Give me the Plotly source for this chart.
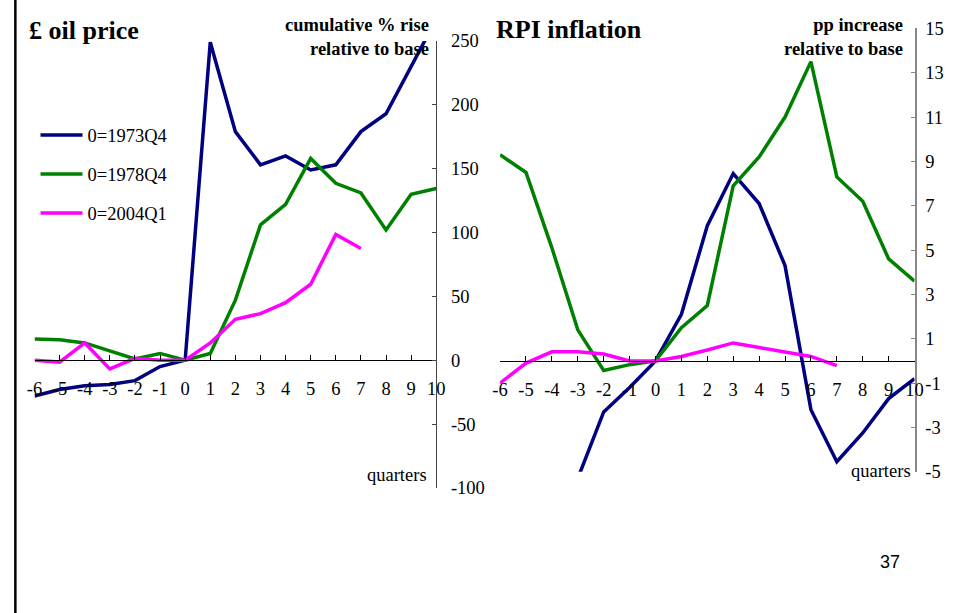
import plotly.graph_objects as go

quarters = list(range(-6, 11))
quarter_labels = ["-6", "-5", "-4", "-3", "-2", "-1", "0", "1", "2", "3", "4", "5", "6", "7", "8", "9", "10"]

# £ oil price, cumulative % rise relative to base
oil_1973 = [-28, -23, -20, -19, -16, -5, 0, 249, 179, 153, 160, 149, 153, 179, 193, 230, 267]
oil_1978 = [16.5, 16, 13.5, 7.3, 1, 5.3, 0, 5.3, 47, 106, 122, 158, 138.5, 131, 102, 130, 134.5]
oil_2004 = [0, -1.5, 13.5, -6.8, 1.5, 0, 0, 13.5, 32, 36.5, 45, 59.5, 98.5, 87.5, None, None, None]

# RPI inflation, pp increase relative to base
rpi_1973 = [None, None, None, -5.3, -2.3, -1.2, 0, 2.1, 6.1, 8.45, 7.1, 4.3, -2.2, -4.55, -3.25, -1.7, -0.8]
rpi_1978 = [9.3, 8.5, 5.1, 1.4, -0.43, -0.17, 0, 1.5, 2.5, 7.9, 9.2, 11.0, 13.5, 8.3, 7.2, 4.6, 3.6]
rpi_2004 = [-1.0, -0.1, 0.41, 0.41, 0.31, 0, 0, 0.2, 0.49, 0.81, 0.6, 0.38, 0.2, -0.21, None, None, None]

oil_ticks = [-100, -50, 0, 50, 100, 150, 200, 250]
oil_tick_labels = ["-100", "-50", "0", "50", "100", "150", "200", "250"]
rpi_ticks = [-5, -3, -1, 1, 3, 5, 7, 9, 11, 13, 15]
rpi_tick_labels = ["-5", "-3", "-1", "1", "3", "5", "7", "9", "11", "13", "15"]

series_names = ["0=1973Q4", "0=1978Q4", "0=2004Q1"]
colors = ["#000080", "#008000", "#FF00FF"]

left_yrange = [-100, 250]
right_yrange = [-5, 15]
W, H = 954, 613


def px(x):
    return x / W


def py(y):
    return 1 - y / H


left_xdom = [px(27), px(436)]
right_xdom = [px(501), px(923)]
left_ydom = [py(494), py(32)]
right_ydom = [py(477.3), py(19)]


def zero_pos(dom, rng):
    return dom[0] + (0 - rng[0]) / (rng[1] - rng[0]) * (dom[1] - dom[0])


serif = "Liberation Serif, Times New Roman, serif"

fig = go.Figure()
for name, col, ys in zip(series_names, colors, [oil_1973, oil_1978, oil_2004]):
    fig.add_trace(go.Scatter(x=quarters, y=ys, mode="lines", name=name,
                             line=dict(color=col, width=3.5), xaxis="x", yaxis="y",
                             legendgroup=name, showlegend=True, connectgaps=False))
for name, col, ys in zip(series_names, colors, [rpi_1973, rpi_1978, rpi_2004]):
    fig.add_trace(go.Scatter(x=quarters, y=ys, mode="lines", name=name,
                             line=dict(color=col, width=3.5), xaxis="x2", yaxis="y2",
                             legendgroup=name, showlegend=False, connectgaps=False))

xcommon = dict(range=[-6, 10], tickmode="array", tickvals=quarters, ticktext=quarter_labels,
               showgrid=False, zeroline=False,
               showline=True, linecolor="black", linewidth=1, ticks="inside",
               ticklen=5, tickcolor="black", tickfont=dict(family=serif, size=18.5, color="black"),
               ticklabelstandoff=12, anchor="free", side="bottom")
ycommon = dict(showgrid=False, zeroline=False, showline=True, side="right",
               ticks="inside", ticklen=4, tickmode="array",
               tickfont=dict(family=serif, size=18.5, color="black"))

fig.update_layout(
    width=W, height=H, autosize=False,
    margin=dict(l=0, r=0, t=0, b=0),
    paper_bgcolor="white", plot_bgcolor="white",
    xaxis=dict(domain=left_xdom, position=zero_pos(left_ydom, left_yrange), **xcommon),
    xaxis2=dict(domain=right_xdom, position=zero_pos(right_ydom, right_yrange), **xcommon),
    yaxis=dict(domain=left_ydom, range=left_yrange, tickvals=oil_ticks, ticktext=oil_tick_labels,
               anchor="x", linecolor="#444444", linewidth=1, tickcolor="#444444",
               ticklabelstandoff=10, **ycommon),
    yaxis2=dict(domain=right_ydom, range=right_yrange, tickvals=rpi_ticks, ticktext=rpi_tick_labels,
                anchor="x2", linecolor="#888888", linewidth=2, tickcolor="#888888",
                ticklabelstandoff=5, **ycommon),
    legend=dict(x=px(28), y=py(110), xanchor="left", yanchor="top",
                font=dict(family=serif, size=18.5, color="black"),
                bgcolor="rgba(0,0,0,0)", itemwidth=42, tracegroupgap=12,
                traceorder="grouped"),
    showlegend=True,
)

annots = [
    dict(text="<b>£ oil price</b>", x=px(19), y=py(21), xanchor="left", yanchor="middle",
         font=dict(family=serif, size=26, color="black")),
    dict(text="<b>RPI inflation</b>", x=px(495), y=py(20), xanchor="left", yanchor="middle",
         font=dict(family=serif, size=26, color="black")),
    dict(text="<b>cumulative % rise<br>relative to base</b>", x=px(431), y=py(28),
         xanchor="right", yanchor="middle", align="right",
         font=dict(family=serif, size=18.5, color="black")),
    dict(text="<b>pp increase<br>relative to base</b>", x=px(913), y=py(28),
         xanchor="right", yanchor="middle", align="right",
         font=dict(family=serif, size=18.5, color="black")),
    dict(text="quarters", x=px(429), y=py(481), xanchor="right", yanchor="middle",
         font=dict(family=serif, size=18.5, color="black")),
    dict(text="quarters", x=px(921), y=py(477), xanchor="right", yanchor="middle",
         font=dict(family=serif, size=18.5, color="black")),
    dict(text="37", x=px(898), y=py(571), xanchor="center", yanchor="middle",
         font=dict(family="Liberation Sans, Arial, sans-serif", size=18, color="black")),
]
for a in annots:
    a.update(xref="paper", yref="paper", showarrow=False)
fig.update_layout(annotations=annots)

fig.add_shape(type="line", xref="paper", yref="paper", x0=px(7.5), x1=px(7.5), y0=-0.05, y1=1.05,
              line=dict(color="black", width=2.5))

fig.write_html("out.html", config={"responsive": False})
